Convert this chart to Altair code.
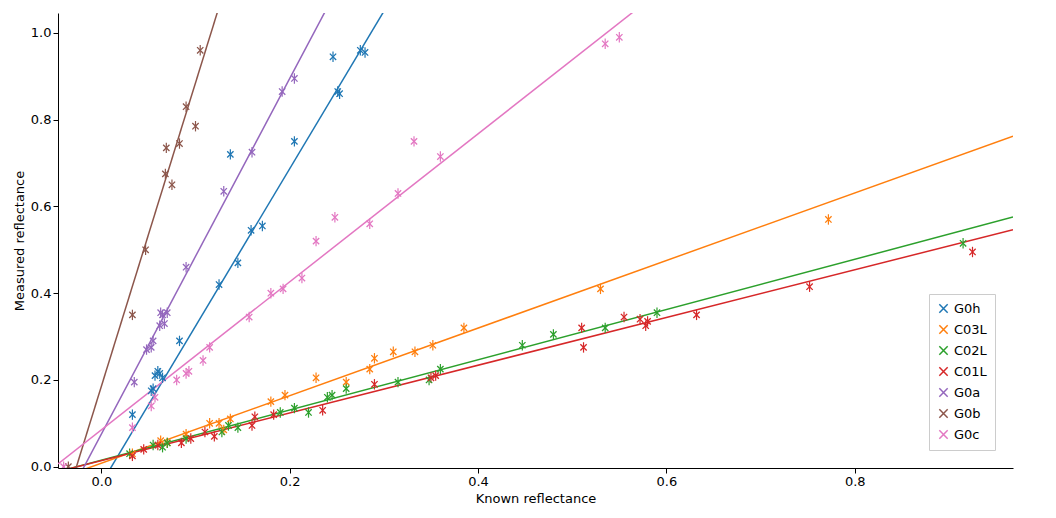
import altair as alt
import pandas as pd

series = ["G0h", "C03L", "C02L", "C01L", "G0a", "G0b", "G0c"]
colors = ["#1f77b4", "#ff7f0e", "#2ca02c", "#d62728", "#9467bd", "#8c564b", "#e377c2"]

pts = {
 "G0h": [(0.033,0.12),(0.053,0.175),(0.055,0.18),(0.057,0.21),(0.06,0.22),(0.062,0.215),(0.065,0.205),(0.083,0.29),(0.125,0.42),(0.137,0.72),(0.145,0.47),(0.159,0.545),(0.171,0.555),(0.205,0.75),(0.246,0.945),(0.251,0.865),(0.253,0.86),(0.275,0.96),(0.28,0.955)],
 "C03L": [(0.033,0.03),(0.063,0.06),(0.07,0.055),(0.09,0.075),(0.115,0.1),(0.125,0.1),(0.13,0.085),(0.137,0.11),(0.18,0.15),(0.195,0.165),(0.228,0.205),(0.26,0.195),(0.285,0.225),(0.29,0.25),(0.31,0.265),(0.333,0.265),(0.352,0.28),(0.385,0.32),(0.53,0.41),(0.772,0.57)],
 "C02L": [(0.03,0.03),(0.055,0.05),(0.065,0.045),(0.07,0.055),(0.09,0.065),(0.128,0.08),(0.135,0.095),(0.145,0.09),(0.19,0.125),(0.205,0.135),(0.22,0.125),(0.24,0.16),(0.245,0.165),(0.26,0.18),(0.315,0.195),(0.348,0.2),(0.36,0.225),(0.447,0.28),(0.48,0.305),(0.535,0.32),(0.59,0.355),(0.915,0.515)],
 "C01L": [(0.033,0.025),(0.045,0.04),(0.06,0.05),(0.085,0.055),(0.095,0.065),(0.11,0.08),(0.12,0.07),(0.16,0.095),(0.163,0.115),(0.183,0.12),(0.235,0.13),(0.29,0.19),(0.35,0.205),(0.355,0.21),(0.51,0.32),(0.512,0.275),(0.555,0.345),(0.572,0.34),(0.578,0.325),(0.58,0.335),(0.632,0.35),(0.752,0.415),(0.925,0.495)],
 "G0a": [(0.035,0.195),(0.048,0.27),(0.053,0.275),(0.055,0.29),(0.062,0.325),(0.063,0.355),(0.065,0.35),(0.067,0.33),(0.07,0.355),(0.09,0.46),(0.13,0.635),(0.16,0.725),(0.192,0.865),(0.205,0.895)],
 "G0b": [(-0.035,0.0),(0.033,0.35),(0.047,0.5),(0.068,0.675),(0.069,0.735),(0.075,0.65),(0.083,0.745),(0.09,0.83),(0.1,0.785),(0.105,0.96)],
 "G0c": [(-0.04,0.0),(0.033,0.09),(0.053,0.14),(0.057,0.16),(0.08,0.2),(0.09,0.215),(0.093,0.22),(0.108,0.245),(0.115,0.275),(0.157,0.345),(0.18,0.4),(0.193,0.41),(0.213,0.435),(0.228,0.52),(0.248,0.575),(0.285,0.56),(0.315,0.63),(0.332,0.75),(0.36,0.715),(0.535,0.975),(0.55,0.99)],
}
slopes = [3.63, 0.779, 0.579, 0.55, 4.10, 7.0, 1.706]
intercepts = [-0.039, 0.008, 0.015, 0.014, 0.075, 0.185, 0.085]
x_ends = [-0.046, 0.968]
err = 0.012

rows = [{"s": s, "x": x, "y": y, "lo": y - err, "hi": y + err} for s in series for x, y in pts[s]]
df = pd.DataFrame(rows)
lrows = [{"s": s, "x": x, "y": m * x + b} for s, m, b in zip(series, slopes, intercepts) for x in x_ends]
ldf = pd.DataFrame(lrows)

xs = alt.Scale(domain=[-0.046, 0.968], nice=False, zero=False)
ys = alt.Scale(domain=[-0.003, 1.046], nice=False, zero=False)
col = alt.Color("s:N", scale=alt.Scale(domain=series, range=colors), sort=series,
                legend=alt.Legend(title=None, orient="bottom-right", strokeColor="#ccc",
                                  fillColor="white", padding=8, labelFontSize=13, rowPadding=6,
                                  symbolType="M-1,-1L1,1M1,-1L-1,1", symbolStrokeWidth=1.5,
                                  symbolSize=70))
X = alt.X("x:Q", scale=xs, title="Known reflectance",
          axis=alt.Axis(values=[0, 0.2, 0.4, 0.6, 0.8], format=".1f", grid=False))
Y = alt.Y("y:Q", scale=ys, title="Measured reflectance",
          axis=alt.Axis(values=[0, 0.2, 0.4, 0.6, 0.8, 1.0], format=".1f", grid=False))

lines = alt.Chart(ldf).mark_line(clip=True, strokeWidth=1.5).encode(x=X, y=Y, color=col)
errs = alt.Chart(df).mark_rule(clip=True, strokeWidth=1.2).encode(
    x="x:Q", y="lo:Q", y2="hi:Q", color=alt.Color("s:N", legend=None, scale=alt.Scale(domain=series, range=colors)))
marks = alt.Chart(df).mark_point(shape="M-1,-1L1,1M1,-1L-1,1", size=40, strokeWidth=1.3,
                                  filled=False, clip=True, opacity=1).encode(x=X, y=Y, color=col)

chart = alt.layer(lines, errs, marks).configure_view(
    stroke=None).configure_axis(labelFontSize=13, titleFontSize=13, labelColor="black",
    titleColor="black", domainColor="black", tickColor="black", titleFontWeight="normal",
    labelFont="DejaVu Sans", titleFont="DejaVu Sans").configure_legend(labelFont="DejaVu Sans")
chart = chart.properties(autosize=alt.AutoSizeParams(type="fit", contains="padding"), width=1010, height=502)
chart.save("out.html", embed_options={"renderer": "svg", "actions": False})
